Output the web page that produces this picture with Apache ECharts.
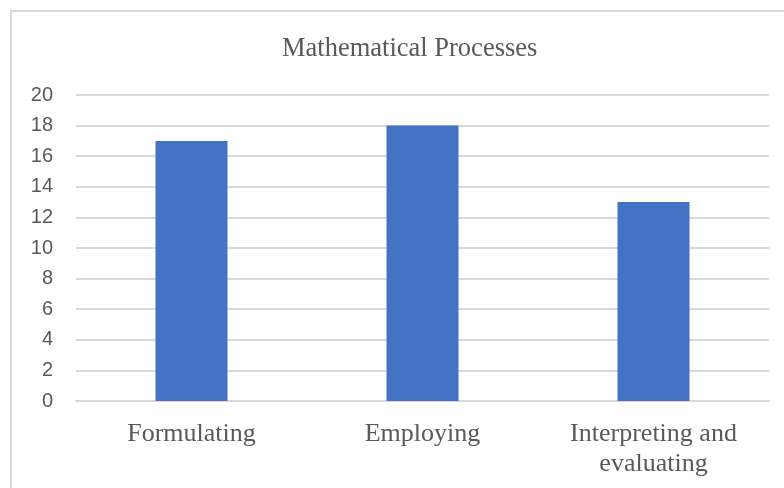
<!DOCTYPE html>
<html>
<head>
<meta charset="utf-8">
<script src="https://cdn.jsdelivr.net/npm/echarts@6/dist/echarts.min.js"></script>
<style>
html,body{margin:0;padding:0;background:#fff;}
#chart{width:784px;height:488px;}
</style>
</head>
<body>
<div id="chart"></div>
<script>
const categories = ['Formulating', 'Employing', 'Interpreting and\nevaluating'];
const values = [17, 18, 13];
const yTicks = [0, 2, 4, 6, 8, 10, 12, 14, 16, 18, 20];

const chart = echarts.init(document.getElementById('chart'));
chart.setOption({
  animation: false,
  backgroundColor: '#fff',
  graphic: [{
    type: 'rect',
    shape: { x: 11, y: 11, width: 800, height: 500 },
    style: { fill: 'none', stroke: '#d9d9d9', lineWidth: 2 },
    silent: true
  }],
  title: {
    text: 'Mathematical Processes',
    left: 277,
    top: 31,
    textStyle: { fontFamily: 'Liberation Serif', fontSize: 26.5, fontWeight: 'normal', color: '#595959' }
  },
  grid: { left: 76, right: 15, top: 95, bottom: 87 },
  xAxis: {
    type: 'category',
    data: categories,
    axisLine: { show: true, lineStyle: { color: '#d9d9d9', width: 2 } },
    axisTick: { show: false },
    axisLabel: {
      fontFamily: 'Liberation Serif', fontSize: 26, color: '#595959',
      margin: 18, lineHeight: 30, interval: 0
    }
  },
  yAxis: {
    type: 'value',
    min: yTicks[0],
    max: yTicks[yTicks.length - 1],
    interval: 2,
    axisLine: { show: false },
    axisTick: { show: false },
    splitLine: { lineStyle: { color: '#d9d9d9', width: 2 } },
    axisLabel: { fontFamily: 'Liberation Sans', fontSize: 20, color: '#595959', margin: 23 }
  },
  series: [{
    type: 'bar',
    data: values,
    barWidth: 72,
    itemStyle: { color: '#4472c4' }
  }]
});
</script>
</body>
</html>
